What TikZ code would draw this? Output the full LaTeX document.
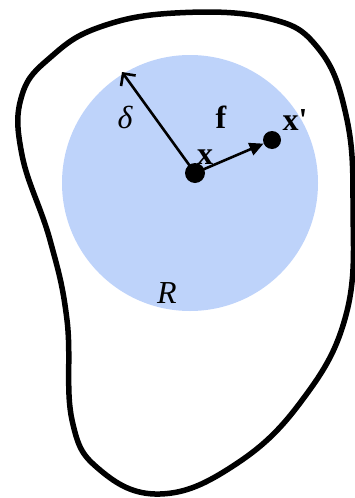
\documentclass[tikz,border=0pt]{standalone}
\usepackage{fontspec}
\setmainfont{Liberation Serif}
\usepackage{tikz}
\usetikzlibrary{arrows.meta, positioning}
\definecolor{ballblue}{RGB}{190,211,250}

\begin{document}
\begin{tikzpicture}[
    x=1pt, y=-1pt,
    lbl/.style={font=\fontsize{32}{32}\selectfont, inner sep=0pt},
    pt/.style={circle, fill=black, inner sep=0pt},
    vec/.style={line width=2.6pt, -{Triangle[length=14pt, width=13pt]}},
    rad/.style={line width=2.6pt, -{Straight Barb[length=9pt, width=18pt, line width=2.6pt]}}
]
\useasboundingbox (0,0) rectangle (355,498);
% region R
\draw[line width=5.5pt, line join=round] plot[smooth cycle, tension=0.7] coordinates {
    (100,27) (175,13) (267,18) (318,48) (346,115) (353,205) (346,315)
    (300,403) (233,466) (160,494) (100,470) (72,420) (67,320) (50,240)
    (22,155) (22,95) (52,56)};
% ball of radius delta
\fill[ballblue] (190,183) circle[radius=128];
\node[pt, minimum size=20pt] (x) at (195,173) {};
\node[pt, minimum size=18pt] (xp) at (272,140) {};
\coordinate (rim) at (122,72);
\draw[rad] (x.center) -- (rim);
\draw[vec] (x.center) -- (xp);
\node[lbl] (d) at (125,117) {\itshape δ};
\node[lbl] (f) at (221,117) {\textbf{f}};
\node[lbl] (xl) at (205,157) {\textbf{x}};
\node[lbl] (xpl) at (295,120) {\textbf{x\textquotesingle}};
\node[lbl] (r) at (167,293) {\itshape R};
\end{tikzpicture}
\end{document}
